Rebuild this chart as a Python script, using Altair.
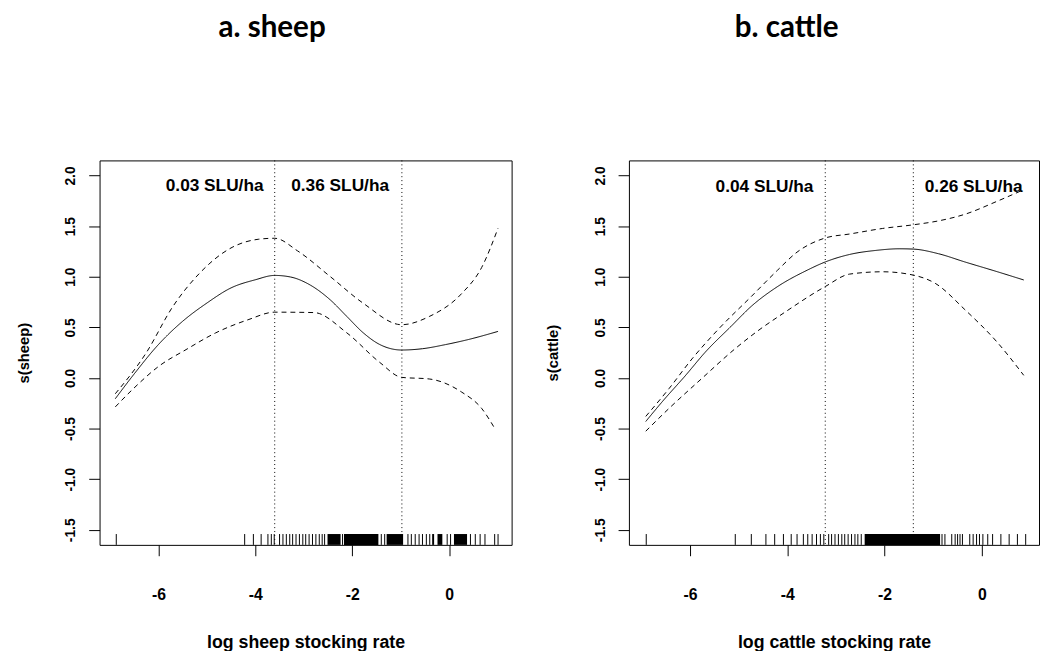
import altair as alt
import pandas as pd

# ---------------- data ----------------
# a. sheep
sheep_fit_x = [-6.89, -6.5, -6.0, -5.5, -5.0, -4.5, -4.0, -3.60, -3.27, -2.86, -2.45, -2.11, -1.77, -1.43, -0.98, -0.55, -0.07, 0.40, 1.01]
sheep_fit_y = [-0.205, 0.04, 0.33, 0.56, 0.74, 0.89, 0.97, 1.013, 0.997, 0.916, 0.77, 0.607, 0.445, 0.33, 0.276, 0.289, 0.33, 0.38, 0.46]
sheep_up_x = [-6.89, -6.25, -5.71, -5.16, -4.48, -3.94, -3.60, -3.13, -2.45, -1.77, -0.98, -0.41, 0.26, 0.67, 1.01]
sheep_up_y = [-0.156, 0.25, 0.70, 1.03, 1.29, 1.37, 1.38, 1.256, 1.00, 0.737, 0.526, 0.607, 0.834, 1.09, 1.48]
sheep_lo_x = [-6.89, -6.52, -5.98, -5.43, -4.82, -4.15, -3.60, -2.79, -2.11, -1.43, -0.98, -0.41, 0.26, 0.67, 0.94]
sheep_lo_y = [-0.286, -0.107, 0.12, 0.28, 0.445, 0.575, 0.65, 0.646, 0.445, 0.153, 0.006, -0.01, -0.14, -0.30, -0.497]
sheep_vlines = [-3.60, -0.975]
sheep_notes = ["0.03 SLU/ha", "0.36 SLU/ha"]
sheep_note_x = [-4.84, -2.25]
sheep_note_y = [1.895, 1.895]
sheep_rug = [-6.87, -4.22, -4.04, -3.88, -3.74, -3.67, -3.61, -3.50, -3.43, -3.36, -3.29, -3.23,
             -3.16, -3.09, -3.02, -2.96, -2.89, -2.82, -2.75, -2.68, -2.62, -2.57, -2.20, -1.40,
             -1.33, -0.85, -0.78, -0.70, -0.62, -0.55, -0.47, -0.40, -0.04, 0.03, 0.44, 0.54,
             0.64, 0.74, 0.94, 1.01]
sheep_rug_dense_from = [-2.51, -2.17, -1.29, -0.35, -0.24, 0.10]
sheep_rug_dense_to = [-2.24, -1.46, -0.95, -0.31, -0.14, 0.37]

# b. cattle
cattle_fit_x = [-6.91, -6.57, -6.09, -5.69, -5.15, -4.74, -4.20, -3.59, -3.22, -2.72, -2.18, -1.70, -1.41, -0.89, -0.35, 0.32, 0.86]
cattle_fit_y = [-0.43, -0.234, 0.026, 0.253, 0.513, 0.708, 0.903, 1.065, 1.146, 1.22, 1.26, 1.276, 1.273, 1.227, 1.146, 1.049, 0.968]
cattle_up_x = [-6.91, -6.43, -5.96, -5.42, -4.74, -4.20, -3.80, -3.22, -2.72, -2.04, -1.41, -0.89, -0.35, 0.32, 0.86]
cattle_up_y = [-0.38, -0.104, 0.188, 0.48, 0.805, 1.065, 1.243, 1.383, 1.422, 1.477, 1.513, 1.552, 1.617, 1.747, 1.86]
cattle_lo_x = [-6.91, -6.43, -5.76, -5.08, -4.61, -4.07, -3.22, -2.72, -2.04, -1.41, -0.96, -0.35, 0.32, 0.86]
cattle_lo_y = [-0.526, -0.30, -0.006, 0.286, 0.464, 0.643, 0.903, 1.026, 1.049, 1.016, 0.935, 0.675, 0.35, 0.026]
cattle_vlines = [-3.22, -1.41]
cattle_notes = ["0.04 SLU/ha", "0.26 SLU/ha"]
cattle_note_x = [-4.47, -0.17]
cattle_note_y = [1.885, 1.885]
cattle_rug = [-6.90, -5.07, -4.74, -4.44, -4.26, -4.08, -3.92, -3.80, -3.67, -3.58, -3.49, -3.40,
              -3.32, -3.25, -3.15, -3.09, -3.02, -2.95, -2.88, -2.82, -2.75, -2.68, -2.61, -2.55,
              -2.48, -0.82, -0.76, -0.62, -0.55, -0.50, -0.45, -0.40, -0.25, -0.18, -0.11, -0.05,
              0.02, 0.12, 0.22, 0.39, 0.56, 0.73, 0.90]
cattle_rug_dense_from = [-2.41]
cattle_rug_dense_to = [-0.86]

y_ticks = [-1.5, -1.0, -0.5, 0.0, 0.5, 1.0, 1.5, 2.0]
x_ticks = [-6, -4, -2, 0]
y_domain = [-1.649, 2.149]

PLOT_H = 390
RUG_LEN = 11
FONT = "Liberation Sans"


def curves_df(fx, fy, ux, uy, lx, ly):
    rows = []
    for s, xs, ys in (("fit", fx, fy), ("upper", ux, uy), ("lower", lx, ly)):
        for a, b in zip(xs, ys):
            rows.append({"x": a, "y": b, "series": s})
    return pd.DataFrame(rows)


def panel(title, title_dx, xtitle, ytitle, xdomain, width, fx, fy, ux, uy, lx, ly,
          vlines, notes, note_x, note_y, rug, dense_from, dense_to):
    xs = alt.Scale(domain=xdomain, nice=False, zero=False)
    ys = alt.Scale(domain=y_domain, nice=False, zero=False)
    xaxis = alt.Axis(
        values=x_ticks, grid=False, domain=False, tickSize=11, tickColor="black", tickWidth=1,
        labelExpr="(datum.value < 0 ? '-' : '') + format(abs(datum.value), 'd')",
        labelFont=FONT, labelFontWeight="bold", labelFontSize=16, labelColor="black",
        labelPadding=31, labelOverlap=False, labelFlush=False,
        title=xtitle, titleFont=FONT, titleFontWeight="bold", titleFontSize=18,
        titleColor="black", titlePadding=32,
    )
    yaxis = alt.Axis(
        values=y_ticks, grid=False, domain=False, tickSize=11, tickColor="black", tickWidth=1,
        labelExpr="(datum.value < 0 ? '-' : '') + format(abs(datum.value), '.1f')",
        labelAngle=270, labelAlign="center", labelBaseline="bottom",
        labelFont=FONT, labelFontWeight="bold", labelFontSize=14, labelColor="black",
        labelPadding=11, labelOverlap=False, labelFlush=False,
        title=ytitle, titleFont=FONT, titleFontWeight="bold", titleFontSize=15,
        titleColor="black", titlePadding=33,
    )

    def X(field):
        return alt.X(field, type="quantitative", scale=xs, axis=xaxis)

    def Y(field):
        return alt.Y(field, type="quantitative", scale=ys, axis=yaxis)

    cdf = curves_df(fx, fy, ux, uy, lx, ly)
    lines = alt.Chart(cdf).mark_line(color="black", strokeWidth=1, interpolate="monotone").encode(
        x=X("x"), y=Y("y"), detail="series:N",
        strokeDash=alt.StrokeDash(
            "series:N",
            scale=alt.Scale(domain=["fit", "upper", "lower"], range=[[1, 0], [5, 4], [5, 4]]),
            legend=None,
        ),
    )
    vl = alt.Chart(pd.DataFrame({"x": vlines})).mark_rule(
        color="black", strokeWidth=1, strokeDash=[1, 3]
    ).encode(x=X("x"))
    txt = alt.Chart(pd.DataFrame({"x": note_x, "y": note_y, "t": notes})).mark_text(
        font=FONT, fontWeight="bold", fontSize=17.5, color="black", align="center", baseline="middle"
    ).encode(x=X("x"), y=Y("y"), text="t:N")
    rug_ticks = alt.Chart(pd.DataFrame({"x": rug})).mark_rule(color="black", strokeWidth=1).encode(
        x=X("x"), y=alt.value(PLOT_H), y2=alt.value(PLOT_H - RUG_LEN)
    )
    rug_blocks = alt.Chart(pd.DataFrame({"x": dense_from, "x1": dense_to})).mark_rect(color="black").encode(
        x=X("x"), x2=alt.X2("x1"), y=alt.value(PLOT_H - RUG_LEN), y2=alt.value(PLOT_H)
    )
    return alt.layer(lines, vl, txt, rug_ticks, rug_blocks).properties(
        width=width, height=PLOT_H,
        title=alt.TitleParams(
            text=title, font="Lato", fontSize=30, fontWeight="bold", color="black",
            anchor="middle", frame="group", dx=title_dx, offset=95, baseline="alphabetic",
        ),
    )


left = panel("a. sheep", -34, "log sheep stocking rate", "s(sheep)", [-7.215, 1.29], 418,
             sheep_fit_x, sheep_fit_y, sheep_up_x, sheep_up_y, sheep_lo_x, sheep_lo_y,
             sheep_vlines, sheep_notes, sheep_note_x, sheep_note_y, sheep_rug,
             sheep_rug_dense_from, sheep_rug_dense_to)
right = panel("b. cattle", -48, "log cattle stocking rate", "s(cattle)", [-7.256, 1.174], 416,
              cattle_fit_x, cattle_fit_y, cattle_up_x, cattle_up_y, cattle_lo_x, cattle_lo_y,
              cattle_vlines, cattle_notes, cattle_note_x, cattle_note_y, cattle_rug,
              cattle_rug_dense_from, cattle_rug_dense_to)

chart = alt.hconcat(left, right, spacing=33).properties(
    padding={"left": 16, "top": 8, "right": 0, "bottom": 0}, background="white"
).configure_view(stroke="black", strokeWidth=1)

chart.save("out.html", embed_options={"renderer": "svg", "actions": False})
